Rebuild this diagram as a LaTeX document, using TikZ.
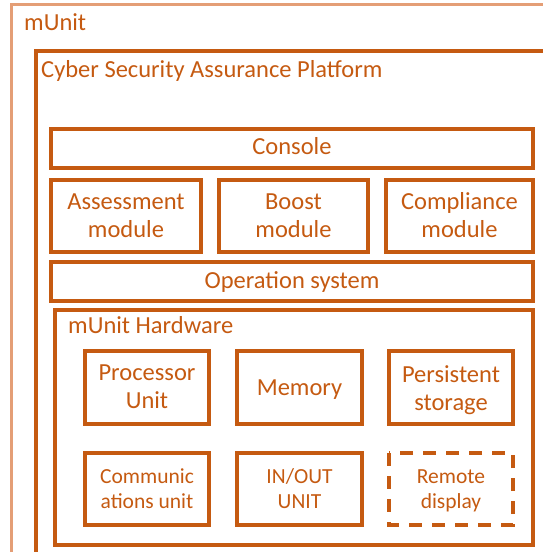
\documentclass[tikz,border=0pt]{standalone}
\usepackage{fontspec}
\setmainfont{Carlito}
\definecolor{rust}{RGB}{197,90,17}
\definecolor{peach}{RGB}{228,158,118}
\tikzset{
  boxline/.style={draw=rust, line width=3.4pt},
  boxtext/.style={text=rust, align=center, inner sep=0pt, font=\fontsize{24.5}{28}\selectfont},
  hwtext/.style={text=rust, align=center, inner sep=0pt, font=\fontsize{21.5}{25}\selectfont},
  linetext/.style={text=rust, anchor=base, inner sep=0pt, font=\fontsize{24.5}{28}\selectfont},
  headtext/.style={text=rust, anchor=base west, inner sep=0pt, font=\fontsize{24.5}{28}\selectfont}
}

\begin{document}
\begin{tikzpicture}[x=1pt,y=-1pt]
\useasboundingbox (0,0) rectangle (543,552);
\clip (0,0) rectangle (543,552);

%AUSSEN: MUNIT
\draw [peach, line width=3pt] (11,4) rectangle (600,600);
\node [headtext] (munit) at (24,30) {mUnit};

%PLATTFORM
\draw [boxline] (36,51) rectangle (600,600);
\node [headtext] (csap) at (41,77) {Cyber Security Assurance Platform};

%ZEILE NR. 0 (von oben)
\draw [boxline] (51,129) rectangle (533,168);
\node [linetext] (console) at (292,154) {Console};

%ZEILE NR. 1 (von oben)
\draw [boxline] (51,180) rectangle (201,252);
\node [boxtext] (assess) at (126,216) {Assessment\\module};

\draw [boxline] (219,180) rectangle (368,252);
\node [boxtext] (boost) at (293.5,216) {Boost\\module};

\draw [boxline] (386,180) rectangle (533,252);
\node [boxtext] (compl) at (459.5,215.5) {Compliance\\module};

%ZEILE NR. 2 (von oben)
\draw [boxline] (51,262) rectangle (533,301);
\node [linetext] (os) at (292,288) {Operation system};

%HARDWARE
\draw [boxline] (55,310) rectangle (533,545);
\node [headtext] (hw) at (68,333) {mUnit Hardware};

%HARDWARE ZEILE NR. 0
\draw [boxline] (85,351) rectangle (209,424);
\node [boxtext] (cpu) at (147,387) {Processor\\Unit};

\draw [boxline] (237,351) rectangle (362,424);
\node [linetext] (mem) at (299.5,395) {Memory};

\draw [boxline] (389,351) rectangle (513,424);
\node [boxtext] (store) at (451,390) {Persistent\\storage};

%HARDWARE ZEILE NR. 1
\draw [boxline] (85,453) rectangle (209,525);
\node [hwtext] (comm) at (147,488.5) {Communic\\ations unit};

\draw [boxline] (237,453) rectangle (362,525);
\node [hwtext] (io) at (299.5,488.5) {IN/OUT\\UNIT};

\draw [boxline, dash pattern=on 13pt off 10pt] (389,453) rectangle (513,525);
\node [hwtext] (remote) at (451,491) {Remote\\display};

\end{tikzpicture}
\end{document}
